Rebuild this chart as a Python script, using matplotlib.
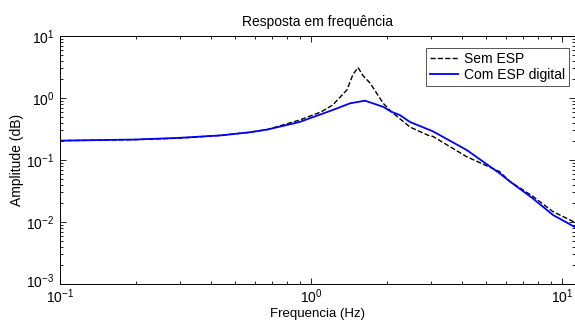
import matplotlib
matplotlib.use("Agg")
import matplotlib.pyplot as plt
import matplotlib.transforms as mtrans

# frequency response (log-log)
freq_sem = [0.1, 0.2, 0.3, 0.44, 0.57, 0.67, 0.9, 1.1, 1.22, 1.39, 1.47, 1.54,
            1.61, 1.72, 1.94, 2.09, 2.48, 2.93, 3.06, 4.17, 5.64, 6.2, 7.65, 9.2, 11.3]
amp_sem = [0.205, 0.213, 0.225, 0.25, 0.28, 0.31, 0.44, 0.6, 0.77, 1.35, 2.4, 3.1,
           2.3, 1.74, 0.82, 0.60, 0.34, 0.25, 0.24, 0.113, 0.065, 0.045, 0.026, 0.0147, 0.0098]

freq_com = [0.1, 0.2, 0.3, 0.44, 0.57, 0.67, 0.9, 1.22, 1.43, 1.64, 1.94, 2.09,
            2.26, 2.48, 3.06, 4.17, 5.64, 6.2, 7.65, 9.2, 11.3]
amp_com = [0.205, 0.214, 0.228, 0.25, 0.28, 0.31, 0.41, 0.64, 0.82, 0.905, 0.72, 0.60,
           0.53, 0.41, 0.29, 0.145, 0.061, 0.045, 0.024, 0.013, 0.0082]

labels = ["Sem ESP", "Com ESP digital"]

plt.rcParams["font.family"] = ["Liberation Sans", "DejaVu Sans"]
plt.rcParams["mathtext.fontset"] = "custom"
plt.rcParams["mathtext.rm"] = "Liberation Sans"
plt.rcParams["mathtext.it"] = "Liberation Sans"
plt.rcParams["font.size"] = 10

fig = plt.figure(figsize=(5.75, 3.2), dpi=100)
ax = fig.add_axes([60 / 575, 1 - 284 / 320, 515 / 575, 248 / 320])

ax.loglog(freq_sem, amp_sem, "k--", lw=1.0, label=labels[0])
ax.loglog(freq_com, amp_com, color="#0000ff", lw=1.3, label=labels[1])

ax.set_xlim(0.1, 10 ** 1.0518)
ax.set_ylim(1e-3, 1e1)

ax.tick_params(which="both", direction="in", top=True, right=True, width=0.6)
ax.tick_params(which="major", length=4, labelsize=10)
ax.tick_params(axis="x", which="major", pad=2.5)
ax.tick_params(axis="y", which="major", pad=4)
ax.tick_params(which="minor", length=2)
for s in ax.spines.values():
    s.set_linewidth(0.7)

ax.set_title("Resposta em frequência", fontsize=10, pad=7)
ax.set_xlabel("Frequencia (Hz)", fontsize=9.5, va="bottom")
ax.xaxis.set_label_coords(0.5, (0.5 - 36) / 248)
ax.set_ylabel("Amplitude (dB)", fontsize=10, labelpad=2)

leg = ax.legend(loc="upper right", bbox_to_anchor=(509 / 515, 1 - 12 / 248),
                fancybox=False, framealpha=1, edgecolor="#555555",
                borderaxespad=0, handlelength=2.0, handletextpad=0.4,
                borderpad=0.3, labelspacing=0.15, fontsize=10)
leg.get_frame().set_linewidth(0.7)

# nudge the lowest y label up a little so it clears the first x label
fig.canvas.draw()
lift = mtrans.ScaledTranslation(0, 3 / 72, fig.dpi_scale_trans)
for tick in ax.yaxis.get_major_ticks():
    if abs(tick.get_loc() - 1e-3) < 1e-9:
        tick.label1.set_transform(tick.label1.get_transform() + lift)

fig.savefig("out.png", dpi=100)
